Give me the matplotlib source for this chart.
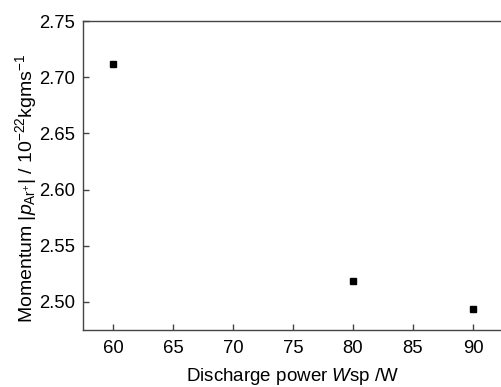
import matplotlib
matplotlib.use("Agg")
import matplotlib.pyplot as plt

# data
power = [60, 80, 90]
momentum = [2.712, 2.519, 2.494]
xticks = [60, 65, 70, 75, 80, 85, 90]
yticks = [2.50, 2.55, 2.60, 2.65, 2.70, 2.75]

plt.rcParams['font.family'] = ['Liberation Sans', 'DejaVu Sans']
plt.rcParams['mathtext.fontset'] = 'custom'
plt.rcParams['mathtext.rm'] = 'Liberation Sans'
plt.rcParams['mathtext.it'] = 'Liberation Sans:italic'
plt.rcParams['mathtext.bf'] = 'Liberation Sans:bold'

fig = plt.figure(figsize=(5.01, 3.87), dpi=100)
# right spine sits just past the image edge in the reference
ax = fig.add_axes([83 / 501, 1 - 330 / 387, (503 - 83) / 501, (330 - 21) / 387])

ax.plot(power, momentum, 's', color='black', markersize=5, linestyle='none')

ax.set_xlim(57.5, 92.5)
ax.set_ylim(2.475, 2.75)
ax.set_xticks(xticks)
ax.set_yticks(yticks)
ax.set_yticklabels(['%.2f' % v for v in yticks])

for s in ax.spines.values():
    s.set_color('#444444')
    s.set_linewidth(1.0)

ax.tick_params(direction='in', length=4, width=1, color='#444444', labelsize=13.3,
               labelcolor='black')
ax.tick_params(axis='x', pad=7)
ax.tick_params(axis='y', pad=5.5)

ax.set_xlabel(r'Discharge power $W$sp /W', fontsize=13.5, labelpad=7)
ax.set_ylabel(r'Momentum |$p_{\mathrm{Ar}^{+}}$| / 10$^{-22}$kgms$^{-1}$', fontsize=14)
ax.yaxis.set_label_coords(-0.105, 0.46)

fig.savefig('out.png', dpi=100)
